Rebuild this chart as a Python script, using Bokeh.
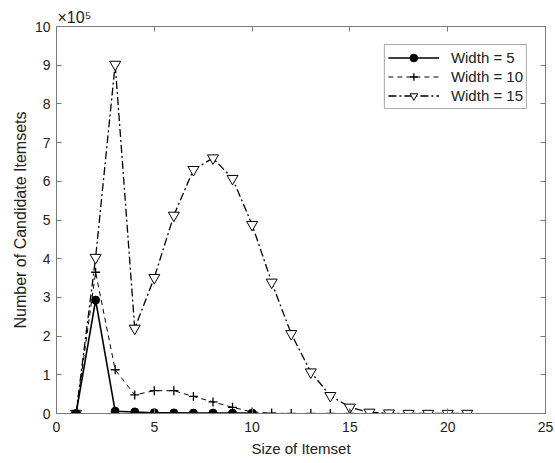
from bokeh.plotting import figure
from bokeh.models import (LinearAxis, Title, Legend, LegendItem, FixedTicker, Range1d,
                          CustomJSTickFormatter)
from bokeh.embed import file_html
from bokeh.resources import INLINE

# Data (values in units of 10^5 candidate itemsets)
size_w5 = [1, 2, 3, 4, 5, 6, 7, 8, 9, 10]
cand_w5 = [0.0, 2.93, 0.06, 0.04, 0.02, 0.015, 0.01, 0.01, 0.01, 0.01]

size_w10 = [1, 2, 3, 4, 5, 6, 7, 8, 9, 10, 11, 12, 13, 14, 15]
cand_w10 = [0.0, 3.65, 1.13, 0.48, 0.59, 0.59, 0.44, 0.30, 0.16, 0.04,
            0.01, 0.0, 0.0, 0.0, 0.0]

size_w15 = [1, 2, 3, 4, 5, 6, 7, 8, 9, 10, 11, 12, 13, 14, 15, 16, 17, 18, 19, 20, 21]
cand_w15 = [0.0, 4.03, 9.02, 2.2, 3.51, 5.12, 6.3, 6.6, 6.07, 4.88, 3.39,
            2.06, 1.07, 0.46, 0.16, 0.03, 0.01, 0.0, 0.0, 0.0, 0.0]

x_ticks = [0, 5, 10, 15, 20, 25]
y_ticks = [0, 1, 2, 3, 4, 5, 6, 7, 8, 9, 10]

FONT = "Liberation Sans"
AXIS_COLOR = "#7a7a7a"
TEXT_COLOR = "#222222"

p = figure(width=555, height=463, output_backend="svg", toolbar_location=None,
           x_range=Range1d(0, 25), y_range=Range1d(0, 10),
           min_border_left=56, min_border_right=10, min_border_top=26, min_border_bottom=50)
p.grid.visible = False
p.outline_line_color = AXIS_COLOR
p.outline_line_width = 1

for ax in [p.xaxis[0], p.yaxis[0]]:
    ax.major_tick_in = 5
    ax.major_tick_out = 0
    ax.minor_tick_in = 0
    ax.minor_tick_out = 0
    ax.axis_line_color = AXIS_COLOR
    ax.major_tick_line_color = AXIS_COLOR
    ax.major_label_text_font = FONT
    ax.major_label_text_font_size = "14px"
    ax.major_label_text_color = TEXT_COLOR
    ax.axis_label_text_font = FONT
    ax.axis_label_text_font_style = "normal"
    ax.axis_label_text_color = TEXT_COLOR

p.xaxis[0].ticker = FixedTicker(ticks=x_ticks)
p.yaxis[0].ticker = FixedTicker(ticks=y_ticks)
p.xaxis[0].axis_label = "Size of Itemset"
p.yaxis[0].axis_label = "Number of Candidate Itemsets"
p.xaxis[0].axis_label_text_font_size = "15px"
p.yaxis[0].axis_label_text_font_size = "16px"
p.xaxis[0].major_label_standoff = 8
p.yaxis[0].major_label_standoff = 6
p.xaxis[0].axis_label_standoff = 5
p.yaxis[0].axis_label_standoff = 3

# Top and right axes with inward ticks only (no labels)
blank = CustomJSTickFormatter(code="return '';")
top = LinearAxis(ticker=FixedTicker(ticks=x_ticks), formatter=blank, major_tick_in=5,
                 major_tick_out=0, minor_tick_in=0, minor_tick_out=0,
                 axis_line_color=AXIS_COLOR, major_tick_line_color=AXIS_COLOR,
                 major_label_standoff=0)
right = LinearAxis(ticker=FixedTicker(ticks=y_ticks), formatter=blank, major_tick_in=5,
                   major_tick_out=0, minor_tick_in=0, minor_tick_out=0,
                   axis_line_color=AXIS_COLOR, major_tick_line_color=AXIS_COLOR,
                   major_label_standoff=0)
p.add_layout(top, "above")
p.add_layout(right, "right")

# Series
l15 = p.line(size_w15, cand_w15, line_color="black", line_width=1.3, line_dash="8 3 2 3")
m15 = p.scatter(size_w15, cand_w15, marker="inverted_triangle", size=11,
                fill_color="white", line_color="black", line_width=1)
l10 = p.line(size_w10, cand_w10, line_color="black", line_width=1, line_dash="5 4")
m10 = p.scatter(size_w10, cand_w10, marker="cross", size=9, line_color="black", line_width=1.3)
l5 = p.line(size_w5, cand_w5, line_color="black", line_width=1.6)
m5 = p.scatter(size_w5, cand_w5, marker="circle", size=8, fill_color="black", line_color="black")

legend = Legend(items=[
    LegendItem(label="Width = 5", renderers=[l5, m5]),
    LegendItem(label="Width = 10", renderers=[l10, m10]),
    LegendItem(label="Width = 15", renderers=[l15, m15]),
], location="top_right")
legend.label_text_font = FONT
legend.label_text_font_size = "15px"
legend.label_text_color = TEXT_COLOR
legend.border_line_color = "#555555"
legend.border_line_width = 1
legend.glyph_width = 51
legend.glyph_height = 19
legend.label_height = 19
legend.spacing = 0
legend.padding = 3
legend.margin = 18
legend.label_standoff = 12
p.add_layout(legend)

# x10^5 exponent annotation
p.add_layout(Title(text="×10⁵", align="left", offset=1, standoff=2, text_font=FONT,
                   text_font_size="16px", text_font_style="normal",
                   text_color=TEXT_COLOR), "above")

open("out.html", "w").write(file_html(p, INLINE))
